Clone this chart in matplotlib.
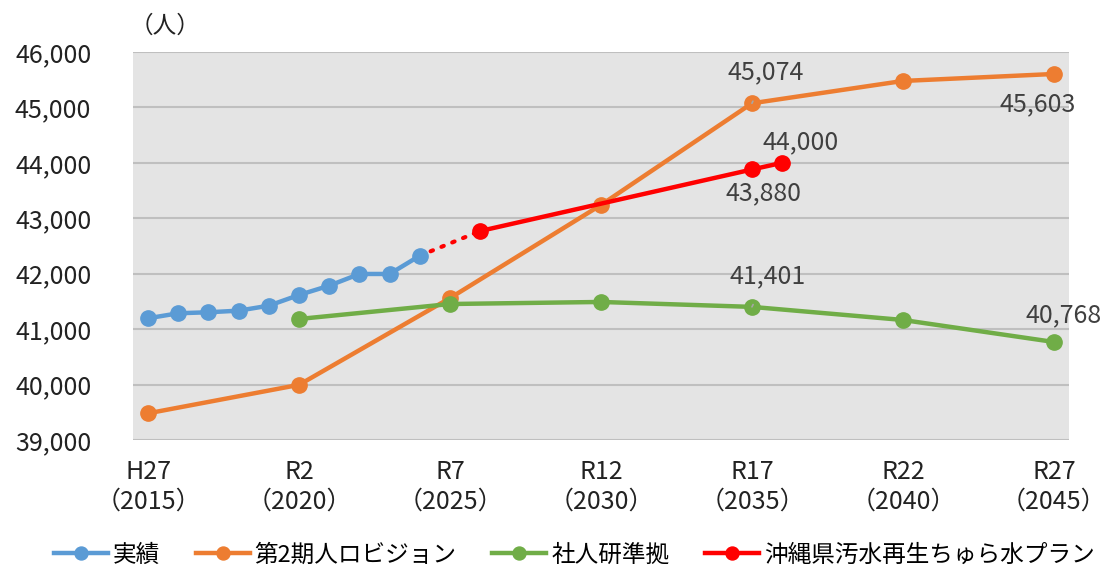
import matplotlib.pyplot as plt

plt.rcParams['font.family'] = ['Noto Sans CJK JP', 'DejaVu Sans']

# data
actual_years = [2015, 2016, 2017, 2018, 2019, 2020, 2021, 2022, 2023, 2024]
actual = [41196, 41286, 41304, 41333, 41423, 41616, 41784, 41995, 41995, 42325]

vision_years = [2015, 2020, 2025, 2030, 2035, 2040, 2045]
vision = [39481, 39995, 41560, 43240, 45074, 45477, 45603]

ipss_years = [2020, 2025, 2030, 2035, 2040, 2045]
ipss = [41183, 41453, 41490, 41401, 41165, 40768]

plan_years = [2026, 2035, 2036]
plan = [42770, 43880, 44000]

xticks = [2015, 2020, 2025, 2030, 2035, 2040, 2045]
xlabels = ['H27\n（2015）', 'R2\n（2020）', 'R7\n（2025）', 'R12\n（2030）',
           'R17\n（2035）', 'R22\n（2040）', 'R27\n（2045）']
names = ['実績', '第2期人ロビジョン', '社人研準拠', '沖縄県汚水再生ちゅら水プラン']

c_blue = '#5b9bd5'
c_orange = '#ed7d31'
c_green = '#70ad47'
c_red = '#ff0000'
c_text = '#404040'

fig = plt.figure(figsize=(11.15, 5.68), dpi=100)
ax = fig.add_axes([0.1193, 0.2254, 0.8394, 0.6831])
ax.set_facecolor('#e4e4e4')

lw = 3.2
ms = 11
ax.plot(actual_years, actual, color=c_blue, lw=lw, marker='o', ms=ms, label=names[0], zorder=4)
ax.plot(vision_years, vision, color=c_orange, lw=lw, marker='o', ms=ms, label=names[1], zorder=3)
ax.plot(ipss_years, ipss, color=c_green, lw=lw, marker='o', ms=ms, label=names[2], zorder=3)
# dotted bridge from last actual value to the plan
ax.plot([actual_years[-1], plan_years[0]], [actual[-1], plan[0]], color=c_red,
        lw=3, ls=(0, (0.6, 2.2)), dash_capstyle='round', zorder=3)
ax.plot(plan_years, plan, color=c_red, lw=lw, marker='o', ms=ms, label=names[3], zorder=5)

ax.set_xlim(2014.5, 2045.5)
ax.set_ylim(39000, 46000)
ax.set_yticks(range(39000, 46001, 1000))
ax.set_yticklabels([f'{v:,}' for v in range(39000, 46001, 1000)])
ax.set_xticks(xticks)
ax.set_xticklabels(xlabels, linespacing=1.15)
ax.tick_params(length=0, labelsize=18, labelcolor='#222222')
ax.tick_params(axis='y', pad=30)
ax.tick_params(axis='x', pad=14)
ax.grid(axis='y', color='#bfbfbf', lw=1.5)
ax.set_axisbelow(True)
for s in ax.spines.values():
    s.set_visible(False)

def label(x, y, dx, dy, leader=False):
    kw = dict(textcoords='offset points', ha='center', va='center',
              fontsize=18, color=c_text, annotation_clip=False, zorder=6)
    if leader:
        kw['arrowprops'] = dict(arrowstyle='-', color='#a6a6a6', lw=1.2,
                                shrinkA=10, shrinkB=0)
    ax.annotate(f'{y:,}', (x, y), xytext=(dx, dy), **kw)

label(2035, vision[4], 10, 22, leader=True)
label(2045, vision[6], -12, -22)
label(2036, plan[2], 13, 15)
label(2035, plan[1], 8, -17)
label(2035, ipss[3], 11, 22, leader=True)
label(2045, ipss[5], 7, 19)

fig.text(0.116, 0.953, '（人）', fontsize=17, color='#222222', ha='left', va='center')

fig.legend(loc='lower center', bbox_to_anchor=(0.515, -0.035), ncol=4, frameon=False,
           fontsize=17, handlelength=2.3, columnspacing=1.5, handletextpad=0.2,
           markerscale=0.85)

fig.savefig('out.png', dpi=100)
